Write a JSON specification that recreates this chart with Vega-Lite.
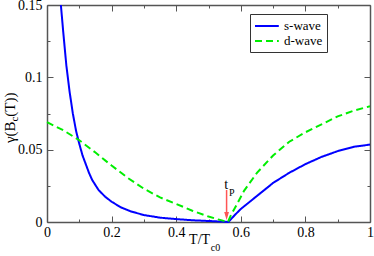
{
  "$schema": "https://vega.github.io/schema/vega-lite/v6.json",
  "width": 323,
  "height": 217,
  "autosize": {"type": "none"},
  "padding": {"left": 47, "top": 5, "right": 4, "bottom": 34},
  "background": "white",
  "config": {
    "view": {"stroke": null},
    "font": "Liberation Serif",
    "legend": {
      "orient": "none", "legendX": 203, "legendY": 9,
      "strokeColor": "#333", "fillColor": "white", "padding": 4, "cornerRadius": 0,
      "symbolType": "M-1,0L2.4,0", "symbolSize": 196, "symbolStrokeWidth": 2,
      "symbolFillColor": "transparent",
      "labelFont": "Liberation Serif", "labelFontSize": 13, "labelColor": "black",
      "labelOffset": 14, "rowPadding": 0, "title": null
    }
  },
  "datasets": {
    "curves": [
      {"series": "s-wave", "x": 0.043, "y": 0.15},
      {"series": "s-wave", "x": 0.05, "y": 0.132},
      {"series": "s-wave", "x": 0.06, "y": 0.108},
      {"series": "s-wave", "x": 0.07, "y": 0.090},
      {"series": "s-wave", "x": 0.08, "y": 0.075},
      {"series": "s-wave", "x": 0.09, "y": 0.063},
      {"series": "s-wave", "x": 0.10, "y": 0.054},
      {"series": "s-wave", "x": 0.11, "y": 0.046},
      {"series": "s-wave", "x": 0.12, "y": 0.040},
      {"series": "s-wave", "x": 0.13, "y": 0.034},
      {"series": "s-wave", "x": 0.14, "y": 0.029},
      {"series": "s-wave", "x": 0.16, "y": 0.022},
      {"series": "s-wave", "x": 0.18, "y": 0.0175},
      {"series": "s-wave", "x": 0.20, "y": 0.014},
      {"series": "s-wave", "x": 0.23, "y": 0.010},
      {"series": "s-wave", "x": 0.26, "y": 0.0073},
      {"series": "s-wave", "x": 0.30, "y": 0.0048},
      {"series": "s-wave", "x": 0.35, "y": 0.003},
      {"series": "s-wave", "x": 0.40, "y": 0.002},
      {"series": "s-wave", "x": 0.45, "y": 0.0012},
      {"series": "s-wave", "x": 0.50, "y": 0.0007},
      {"series": "s-wave", "x": 0.54, "y": 0.0003},
      {"series": "s-wave", "x": 0.562, "y": 0},
      {"series": "s-wave", "x": 0.58, "y": 0.0045},
      {"series": "s-wave", "x": 0.60, "y": 0.009},
      {"series": "s-wave", "x": 0.65, "y": 0.018},
      {"series": "s-wave", "x": 0.70, "y": 0.027},
      {"series": "s-wave", "x": 0.75, "y": 0.034},
      {"series": "s-wave", "x": 0.80, "y": 0.040},
      {"series": "s-wave", "x": 0.85, "y": 0.045},
      {"series": "s-wave", "x": 0.90, "y": 0.049},
      {"series": "s-wave", "x": 0.95, "y": 0.052},
      {"series": "s-wave", "x": 1.00, "y": 0.0535},
      {"series": "d-wave", "x": 0, "y": 0.069},
      {"series": "d-wave", "x": 0.05, "y": 0.0635},
      {"series": "d-wave", "x": 0.10, "y": 0.0565},
      {"series": "d-wave", "x": 0.15, "y": 0.048},
      {"series": "d-wave", "x": 0.20, "y": 0.039},
      {"series": "d-wave", "x": 0.25, "y": 0.0305},
      {"series": "d-wave", "x": 0.30, "y": 0.023},
      {"series": "d-wave", "x": 0.35, "y": 0.017},
      {"series": "d-wave", "x": 0.40, "y": 0.0125},
      {"series": "d-wave", "x": 0.45, "y": 0.0078},
      {"series": "d-wave", "x": 0.50, "y": 0.0038},
      {"series": "d-wave", "x": 0.53, "y": 0.0018},
      {"series": "d-wave", "x": 0.56, "y": 0},
      {"series": "d-wave", "x": 0.57, "y": 0.005},
      {"series": "d-wave", "x": 0.58, "y": 0.009},
      {"series": "d-wave", "x": 0.61, "y": 0.0215},
      {"series": "d-wave", "x": 0.65, "y": 0.034},
      {"series": "d-wave", "x": 0.70, "y": 0.046},
      {"series": "d-wave", "x": 0.75, "y": 0.0555},
      {"series": "d-wave", "x": 0.80, "y": 0.062},
      {"series": "d-wave", "x": 0.85, "y": 0.0675},
      {"series": "d-wave", "x": 0.90, "y": 0.073},
      {"series": "d-wave", "x": 0.95, "y": 0.077},
      {"series": "d-wave", "x": 1.00, "y": 0.080}
    ],
    "arrow": [{"x": 0.556, "y": 0.0221, "y2": 0.0055}],
    "arrowhead": [{"x": 0.556, "y": 0.0041}],
    "tlabel": [{"x": 0.549, "y": 0.0228, "text": "t"}],
    "plabel": [{"x": 0.5635, "y": 0.018, "text": "P"}],
    "xtitle": [{"x": 0.505, "y": -0.0152, "text": "T/T"}],
    "xtitlesub": [{"x": 0.507, "y": -0.0203, "text": "c0"}],
    "ytitle1": [{"x": -0.1, "y": 0.0695, "text": "γ(B"}],
    "ytitlesub": [{"x": -0.089, "y": 0.0695, "text": "c"}],
    "ytitle2": [{"x": -0.1, "y": 0.0728, "text": "(T))"}]
  },
  "resolve": {"axis": {"x": "independent", "y": "independent"}},
  "layer": [
    {
      "data": {"name": "curves"},
      "mark": {"type": "line", "strokeWidth": 2},
      "encoding": {
        "x": {"field": "x", "type": "quantitative",
          "scale": {"domain": [0, 1], "nice": false, "zero": false},
          "axis": {"orient": "bottom", "title": null, "grid": false,
            "values": [0, 0.1, 0.2, 0.3, 0.4, 0.5, 0.6, 0.7, 0.8, 0.9, 1],
            "labelExpr": "round(datum.value*10)%2==0 ? format(datum.value,'~g') : ''",
            "tickSize": {"condition": {"test": "round(datum.value*10)%2==0", "value": -6}, "value": -3},
            "labelFont": "Liberation Serif", "labelFontSize": 14, "labelColor": "black",
            "labelPadding": 9, "labelFlush": false, "labelOverlap": false,
            "domainColor": "#555", "domainWidth": 1.5, "tickColor": "#555", "tickWidth": 1}},
        "y": {"field": "y", "type": "quantitative",
          "scale": {"domain": [0, 0.15], "nice": false, "zero": false},
          "axis": {"orient": "left", "title": null, "grid": false,
            "values": [0, 0.025, 0.05, 0.075, 0.1, 0.125, 0.15],
            "labelExpr": "round(datum.value*40)%2==0 ? format(datum.value,'~g') : ''",
            "tickSize": {"condition": {"test": "round(datum.value*40)%2==0", "value": -6}, "value": -3},
            "labelFont": "Liberation Serif", "labelFontSize": 14, "labelColor": "black",
            "labelPadding": 11, "labelFlush": false, "labelOverlap": false,
            "domainColor": "#555", "domainWidth": 1.5, "tickColor": "#555", "tickWidth": 1}},
        "color": {"field": "series", "type": "nominal",
          "scale": {"domain": ["s-wave", "d-wave"], "range": ["#0000ff", "#00ee00"]}},
        "strokeDash": {"field": "series", "type": "nominal",
          "scale": {"domain": ["s-wave", "d-wave"], "range": [[1, 0], [7, 4]]}}
      }
    },
    {
      "data": {"name": "arrow"},
      "mark": {"type": "rule", "color": "#ff5555", "strokeWidth": 1.5},
      "encoding": {
        "x": {"field": "x", "type": "quantitative",
          "scale": {"domain": [0, 1], "nice": false, "zero": false},
          "axis": {"orient": "top", "title": null, "grid": false, "labels": false,
            "values": [0, 0.1, 0.2, 0.3, 0.4, 0.5, 0.6, 0.7, 0.8, 0.9, 1],
            "tickSize": {"condition": {"test": "round(datum.value*10)%2==0", "value": -6}, "value": -3},
            "domainColor": "#555", "domainWidth": 1.5, "tickColor": "#555", "tickWidth": 1}},
        "y": {"field": "y", "type": "quantitative",
          "scale": {"domain": [0, 0.15], "nice": false, "zero": false},
          "axis": {"orient": "right", "title": null, "grid": false, "labels": false,
            "values": [0, 0.025, 0.05, 0.075, 0.1, 0.125, 0.15],
            "tickSize": {"condition": {"test": "round(datum.value*40)%2==0", "value": -6}, "value": -3},
            "domainColor": "#555", "domainWidth": 1.5, "tickColor": "#555", "tickWidth": 1}},
        "y2": {"field": "y2"}
      }
    },
    {
      "data": {"name": "arrowhead"},
      "mark": {"type": "point", "shape": "M-0.6,-1L0.6,-1L0,1Z", "size": 64, "filled": true, "color": "#ff5555", "opacity": 1},
      "encoding": {
        "x": {"field": "x", "type": "quantitative", "axis": null},
        "y": {"field": "y", "type": "quantitative", "axis": null}
      }
    },
    {
      "data": {"name": "tlabel"},
      "mark": {"type": "text", "align": "left", "baseline": "alphabetic", "fontSize": 14, "color": "black"},
      "encoding": {
        "x": {"field": "x", "type": "quantitative", "axis": null},
        "y": {"field": "y", "type": "quantitative", "axis": null},
        "text": {"field": "text"}
      }
    },
    {
      "data": {"name": "plabel"},
      "mark": {"type": "text", "align": "left", "baseline": "alphabetic", "fontSize": 10, "color": "black"},
      "encoding": {
        "x": {"field": "x", "type": "quantitative", "axis": null},
        "y": {"field": "y", "type": "quantitative", "axis": null},
        "text": {"field": "text"}
      }
    },
    {
      "data": {"name": "xtitle"},
      "mark": {"type": "text", "align": "right", "baseline": "alphabetic", "fontSize": 14, "color": "black"},
      "encoding": {
        "x": {"field": "x", "type": "quantitative", "axis": null},
        "y": {"field": "y", "type": "quantitative", "axis": null},
        "text": {"field": "text"}
      }
    },
    {
      "data": {"name": "xtitlesub"},
      "mark": {"type": "text", "align": "left", "baseline": "alphabetic", "fontSize": 10, "color": "black"},
      "encoding": {
        "x": {"field": "x", "type": "quantitative", "axis": null},
        "y": {"field": "y", "type": "quantitative", "axis": null},
        "text": {"field": "text"}
      }
    },
    {
      "data": {"name": "ytitle1"},
      "mark": {"type": "text", "align": "right", "baseline": "alphabetic", "angle": 270, "fontSize": 15, "color": "black"},
      "encoding": {
        "x": {"field": "x", "type": "quantitative", "axis": null},
        "y": {"field": "y", "type": "quantitative", "axis": null},
        "text": {"field": "text"}
      }
    },
    {
      "data": {"name": "ytitlesub"},
      "mark": {"type": "text", "align": "left", "baseline": "alphabetic", "angle": 270, "fontSize": 11, "color": "black"},
      "encoding": {
        "x": {"field": "x", "type": "quantitative", "axis": null},
        "y": {"field": "y", "type": "quantitative", "axis": null},
        "text": {"field": "text"}
      }
    },
    {
      "data": {"name": "ytitle2"},
      "mark": {"type": "text", "align": "left", "baseline": "alphabetic", "angle": 270, "fontSize": 15, "color": "black"},
      "encoding": {
        "x": {"field": "x", "type": "quantitative", "axis": null},
        "y": {"field": "y", "type": "quantitative", "axis": null},
        "text": {"field": "text"}
      }
    }
  ]
}
